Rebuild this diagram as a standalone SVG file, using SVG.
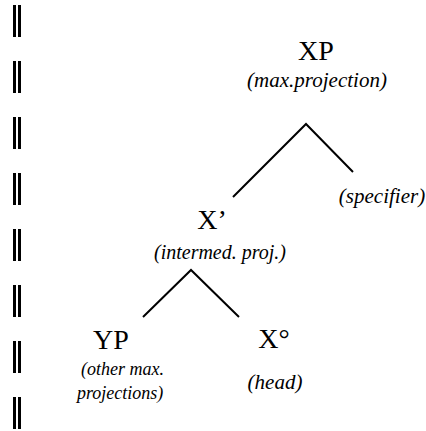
<svg xmlns="http://www.w3.org/2000/svg" width="426" height="431" viewBox="0 0 426 431">
<style>
.lbl{font-family:"Liberation Serif","Times New Roman",serif;font-size:28px;fill:#000;text-anchor:middle}
.sub{font-family:"Liberation Serif","Times New Roman",serif;font-size:21px;font-style:italic;fill:#000;text-anchor:middle}
.sm{font-size:18px;text-anchor:start}
.edge{stroke:#000;stroke-width:2;fill:none}
.bar{fill:#000}
</style>
<rect width="426" height="431" fill="#fff"/>
<g id="margin">
<g id="bars1"><rect class="bar" x="13" y="5" width="3" height="32"/><rect class="bar" x="18" y="5" width="3" height="32"/></g>
<g id="bars2"><rect class="bar" x="13" y="61" width="3" height="32"/><rect class="bar" x="18" y="61" width="3" height="32"/></g>
<g id="bars3"><rect class="bar" x="13" y="117" width="3" height="32"/><rect class="bar" x="18" y="117" width="3" height="32"/></g>
<g id="bars4"><rect class="bar" x="13" y="173" width="3" height="32"/><rect class="bar" x="18" y="173" width="3" height="32"/></g>
<g id="bars5"><rect class="bar" x="13" y="229" width="3" height="32"/><rect class="bar" x="18" y="229" width="3" height="32"/></g>
<g id="bars6"><rect class="bar" x="13" y="285" width="3" height="32"/><rect class="bar" x="18" y="285" width="3" height="32"/></g>
<g id="bars7"><rect class="bar" x="13" y="341" width="3" height="32"/><rect class="bar" x="18" y="341" width="3" height="32"/></g>
<g id="bars8"><rect class="bar" x="13" y="397" width="3" height="32"/><rect class="bar" x="18" y="397" width="3" height="32"/></g>
</g>
<g id="connectors">
<polyline class="edge" points="233,197 306,124 353,172"/>
<polyline class="edge" points="143,317 191,270 239,317"/>
</g>
<g id="XP"><text class="lbl" x="316" y="60">XP</text><text class="sub" x="317" y="87">(max.projection)</text></g>
<g id="spec"><text class="sub" x="382" y="203">(specifier)</text></g>
<g id="Xbar"><text class="lbl" x="212" y="229">X’</text><text class="sub" x="220" y="259" style="font-size:20px">(intermed. proj.)</text></g>
<g id="YP"><text class="lbl" x="111" y="349">YP</text><text class="sub sm" x="81" y="375">(other max.</text><text class="sub sm" x="77" y="399">projections)</text></g>
<g id="X0"><text class="lbl" x="274" y="348">X°</text><text class="sub" x="275" y="389">(head)</text></g>
</svg>
